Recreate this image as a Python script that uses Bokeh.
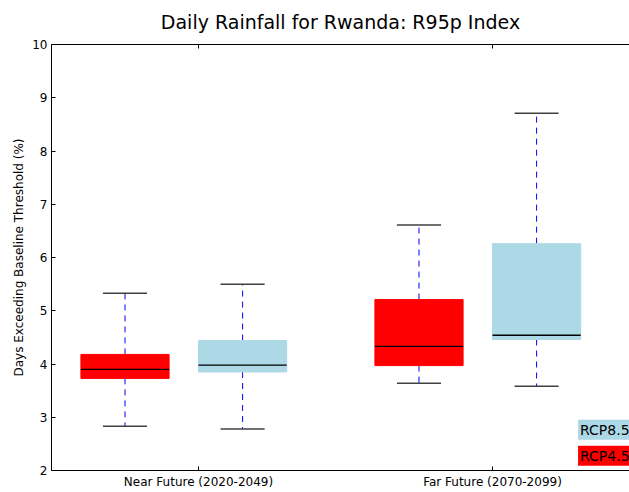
from bokeh.plotting import figure
from bokeh.models import Range1d, FixedTicker, SingleIntervalTicker, Label, LinearAxis
from bokeh.embed import file_html
from bokeh.resources import INLINE

# ---- data ----
categories = ["Near Future (2020-2049)", "Far Future (2070-2099)"]
scenarios = ["RCP4.5", "RCP8.5"]

rcp45_min = [2.83, 3.64]
rcp45_q1 = [3.73, 3.97]
rcp45_med = [3.90, 4.33]
rcp45_q3 = [4.18, 5.21]
rcp45_max = [5.33, 6.61]

rcp85_min = [2.78, 3.58]
rcp85_q1 = [3.85, 4.46]
rcp85_med = [3.98, 4.54]
rcp85_q3 = [4.44, 6.26]
rcp85_max = [5.50, 8.71]

y_label = "Days Exceeding Baseline Threshold (%)"
title = "Daily Rainfall for Rwanda: R95p Index"

FONT = "DejaVu Sans"
group_pos = [1, 2]
offsets = {"RCP4.5": -0.25, "RCP8.5": 0.15}
colors = {"RCP4.5": "#ff0000", "RCP8.5": "#add8e6"}
box_w = 0.3
cap_w = 0.15

FW, FH = 578, 426
X0, X1 = 0.5, 0.5 + FW / 294
Y0, Y1 = 2, 10

p = figure(frame_width=FW, frame_height=FH,
           x_range=Range1d(X0, X1), y_range=Range1d(Y0, Y1),
           output_backend="svg", toolbar_location=None,
           min_border_left=51, min_border_right=0, min_border_top=44, min_border_bottom=22)

p.title.text = title
p.title.align = "center"
p.title.vertical_align = "top"
p.title.text_font = FONT
p.title.text_font_size = "19px"
p.title.text_font_style = "normal"
p.title.text_color = "black"
p.title.standoff = 19

p.outline_line_color = None
p.xgrid.grid_line_color = None
p.ygrid.grid_line_color = None

# axes
p.xaxis.ticker = FixedTicker(ticks=group_pos)
p.xaxis.major_label_overrides = {g: c for g, c in zip(group_pos, categories)}
p.yaxis.ticker = SingleIntervalTicker(interval=1, num_minor_ticks=0)
for ax in (p.xaxis[0], p.yaxis[0]):
    ax.major_tick_in = 4
    ax.major_tick_out = 0
    ax.minor_tick_line_color = None
    ax.axis_line_color = "black"
    ax.major_tick_line_color = "black"
    ax.major_label_text_font = FONT
    ax.major_label_text_font_size = "12px"
    ax.major_label_text_color = "black"
    ax.major_label_standoff = 4
p.yaxis.axis_label = y_label
p.yaxis.axis_label_text_font = FONT
p.yaxis.axis_label_text_font_size = "12px"
p.yaxis.axis_label_text_font_style = "normal"
p.yaxis.axis_label_text_color = "black"
p.yaxis.axis_label_standoff = 3

# top spine (axis without ticks/labels) + inward ticks
top = LinearAxis(ticker=FixedTicker(ticks=[]), major_tick_in=0, major_tick_out=0,
                 minor_tick_in=0, minor_tick_out=0, major_label_standoff=0,
                 axis_line_color="black")
p.add_layout(top, "above")
tick_len = 4 * (Y1 - Y0) / FH
p.segment(x0=group_pos, y0=[Y1] * len(group_pos), x1=group_pos,
          y1=[Y1 - tick_len] * len(group_pos), line_color="black", line_width=1)

series = {
    "RCP4.5": (rcp45_min, rcp45_q1, rcp45_med, rcp45_q3, rcp45_max),
    "RCP8.5": (rcp85_min, rcp85_q1, rcp85_med, rcp85_q3, rcp85_max),
}

for s in scenarios:
    mn, q1, med, q3, mx = series[s]
    xs = [g + offsets[s] for g in group_pos]
    p.segment(xs, q3, xs, mx, line_color="blue", line_dash="6 5", line_width=1)
    p.segment(xs, q1, xs, mn, line_color="blue", line_dash="6 5", line_width=1)
    p.vbar(x=xs, width=box_w, bottom=q1, top=q3, fill_color=colors[s], line_color=colors[s])
    p.segment([x - cap_w / 2 for x in xs], mx, [x + cap_w / 2 for x in xs], mx,
              line_color="#404040", line_width=1.5)
    p.segment([x - cap_w / 2 for x in xs], mn, [x + cap_w / 2 for x in xs], mn,
              line_color="#404040", line_width=1.5)
    p.segment([x - box_w / 2 for x in xs], med, [x + box_w / 2 for x in xs], med,
              line_color="black", line_width=1.3)

# legend-like text boxes
for s, yv in (("RCP8.5", 2.765), ("RCP4.5", 2.275)):
    p.add_layout(Label(x=2.291, y=yv, text=s, text_font=FONT, text_font_size="14px",
                       text_baseline="middle", text_color="black",
                       background_fill_color=colors[s], background_fill_alpha=1.0,
                       padding=2))

open("out.html", "w").write(file_html(p, INLINE))
